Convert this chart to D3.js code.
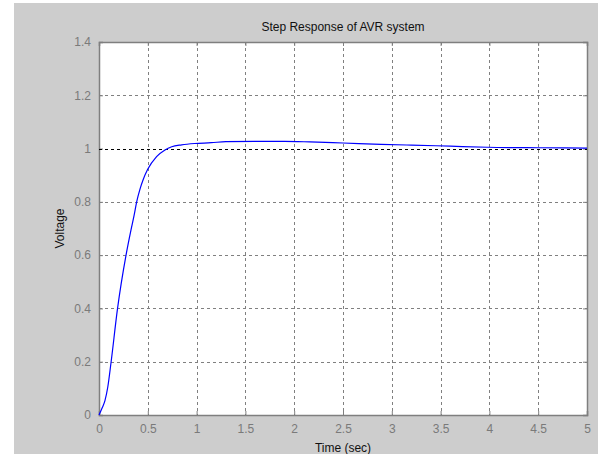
<!DOCTYPE html>
<html>
<head>
<meta charset="utf-8">
<script src="https://cdn.jsdelivr.net/npm/d3@7"></script>
<style>
  body { margin: 0; background: #fff; }
  svg { display: block; font-family: "Liberation Sans", Arial, sans-serif; }
</style>
</head>
<body>
<div id="chart"></div>
<script>
// step response
var time    = [0, 0.034, 0.061, 0.09, 0.123, 0.19, 0.277, 0.328, 0.359, 0.386, 0.42, 0.454, 0.499, 0.59, 0.676, 0.745, 0.847, 0.98, 1.15, 1.3, 1.6, 1.9, 2.16, 2.5, 2.89, 3.2, 3.6, 3.98, 4.5, 5.0];
var voltage = [0, 0.028, 0.054, 0.105, 0.196, 0.4, 0.6, 0.695, 0.748, 0.8, 0.848, 0.885, 0.922, 0.97, 0.995, 1.007, 1.014, 1.019, 1.022, 1.026, 1.027, 1.027, 1.025, 1.021, 1.016, 1.013, 1.009, 1.005, 1.003, 1.002];

var xTicks = [0, 0.5, 1, 1.5, 2, 2.5, 3, 3.5, 4, 4.5, 5];
var yTicks = [0, 0.2, 0.4, 0.6, 0.8, 1, 1.2, 1.4];
var refLevel = 1;

var width = 598, height = 454;
var margin = {top: 42, right: 11, bottom: 39, left: 99};

var svg = d3.select("#chart").append("svg")
  .attr("width", width)
  .attr("height", height);

// grey figure background
svg.append("rect")
  .attr("x", 14).attr("y", 3)
  .attr("width", width - 14).attr("height", height - 3)
  .attr("fill", "#cdcdcd");

var x = d3.scaleLinear().domain([0, 5]).range([margin.left, width - margin.right]);
var y = d3.scaleLinear().domain([0, 1.4]).range([height - margin.bottom, margin.top]);

svg.append("rect")
  .attr("x", x(0)).attr("y", y(1.4))
  .attr("width", x(5) - x(0)).attr("height", y(0) - y(1.4))
  .attr("fill", "#fff");

// grid
var grid = svg.append("g")
  .attr("stroke", "#808080")
  .attr("stroke-width", 1)
  .attr("stroke-dasharray", "3,3");

grid.selectAll(".gx")
  .data(xTicks.slice(1, -1))
  .join("line")
  .attr("x1", d => Math.round(x(d)) + 0.5).attr("x2", d => Math.round(x(d)) + 0.5)
  .attr("y1", y(1.4)).attr("y2", y(0));

grid.selectAll(".gy")
  .data(yTicks.slice(1, -1).filter(d => d !== refLevel))
  .join("line")
  .attr("x1", x(0)).attr("x2", x(5))
  .attr("y1", d => Math.round(y(d)) + 0.5).attr("y2", d => Math.round(y(d)) + 0.5);

// axes (MATLAB style ticks pointing in)
var xAxis = svg.append("g")
  .attr("transform", "translate(0," + y(0) + ")")
  .call(d3.axisBottom(x).tickValues(xTicks).tickSize(-4).tickPadding(9).tickFormat(d3.format("~g")));
var xAxisTop = svg.append("g")
  .attr("transform", "translate(0," + y(1.4) + ")")
  .call(d3.axisTop(x).tickValues(xTicks).tickSize(-4).tickFormat(""));
var yAxis = svg.append("g")
  .attr("transform", "translate(" + x(0) + ",0)")
  .call(d3.axisLeft(y).tickValues(yTicks).tickSize(-4).tickPadding(8).tickFormat(d3.format("~g")));
var yAxisRight = svg.append("g")
  .attr("transform", "translate(" + x(5) + ",0)")
  .call(d3.axisRight(y).tickValues(yTicks).tickSize(-4).tickFormat(""));

[xAxis, xAxisTop, yAxis, yAxisRight].forEach(function(a) {
  a.selectAll("path").attr("stroke", "#7f7f7f").attr("stroke-width", 1.5);
  a.selectAll("line").attr("stroke", "#7f7f7f");
  a.selectAll("text").attr("fill", "#7a7a7a").style("font-size", "12px");
});

// reference line at 1
svg.append("line")
  .attr("x1", x(0)).attr("x2", x(5))
  .attr("y1", Math.round(y(refLevel)) + 0.5).attr("y2", Math.round(y(refLevel)) + 0.5)
  .attr("stroke", "#000")
  .attr("stroke-width", 1)
  .attr("stroke-dasharray", "3,3");

// response curve
var line = d3.line()
  .x((d, i) => x(time[i]))
  .y(d => y(d))
  .curve(d3.curveMonotoneX);

svg.append("path")
  .datum(voltage)
  .attr("d", line)
  .attr("fill", "none")
  .attr("stroke", "#0000ff")
  .attr("stroke-width", 1.2);

// labels
svg.append("text")
  .attr("x", (x(0) + x(5)) / 2).attr("y", 31)
  .attr("text-anchor", "middle")
  .style("font-size", "12px")
  .attr("fill", "#111")
  .text("Step Response of AVR system");

svg.append("text")
  .attr("x", (x(0) + x(5)) / 2).attr("y", 452)
  .attr("text-anchor", "middle")
  .style("font-size", "12px")
  .attr("fill", "#111")
  .text("Time (sec)");

svg.append("text")
  .attr("transform", "translate(64," + y(0.7) + ") rotate(-90)")
  .attr("text-anchor", "middle")
  .style("font-size", "12px")
  .attr("fill", "#111")
  .text("Voltage");
</script>
</body>
</html>
